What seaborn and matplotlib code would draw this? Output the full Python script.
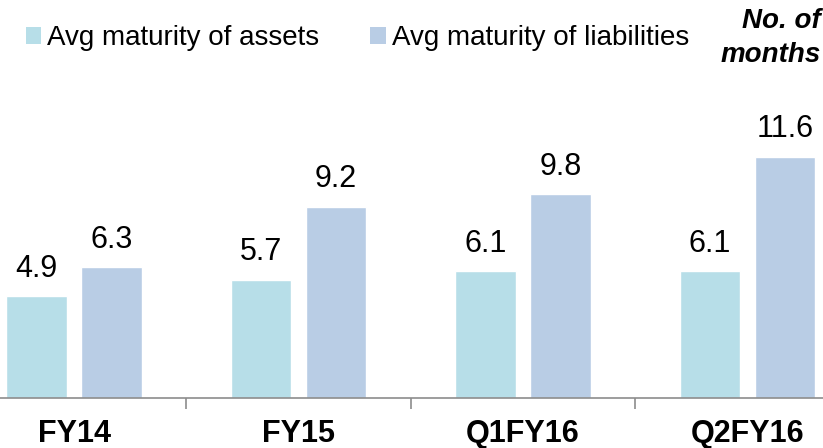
import matplotlib
matplotlib.use("Agg")
import matplotlib.pyplot as plt
from matplotlib.patches import Patch
import seaborn as sns
import pandas as pd

categories = ["FY14", "FY15", "Q1FY16", "Q2FY16"]
assets = [4.9, 5.7, 6.1, 6.1]
liabilities = [6.3, 9.2, 9.8, 11.6]
series_names = ["Avg maturity of assets", "Avg maturity of liabilities"]
colors = ["#B7DEE8", "#B9CDE5"]

df = pd.DataFrame({
    "cat": categories * 2,
    "val": assets + liabilities,
    "series": [series_names[0]] * 4 + [series_names[1]] * 4,
})

sns.set_style("white")
plt.rcParams["font.family"] = ["Liberation Sans", "DejaVu Sans"]
plt.rcParams["text.color"] = "black"
plt.rcParams["xtick.labelcolor"] = "black"

fig = plt.figure(figsize=(8.23, 4.48), dpi=100)
ax = fig.add_axes([0, (448 - 398) / 448, 1, 398 / 448])

sns.barplot(data=df, x="cat", y="val", hue="series", palette=colors,
            width=0.668, gap=0.19, ax=ax, legend=False, saturation=1)

ax.set_xlim(-0.3296, 3.336)
ax.set_ylim(0, 398 / 20.78)

for cont in ax.containers:
    for bar in cont:
        h = bar.get_height()
        ax.annotate(f"{h:.1f}", (bar.get_x() + bar.get_width() / 2, h),
                    xytext=(0, 9), textcoords="offset points",
                    ha="center", va="bottom", fontsize=22, color="black")

for s in ["top", "right", "left"]:
    ax.spines[s].set_visible(False)
ax.spines["bottom"].set_color("#8C8C8C")
ax.spines["bottom"].set_linewidth(1.2)
ax.set_yticks([])
ax.set_xlabel("")
ax.set_ylabel("")
ax.set_xticks(range(len(categories)))
ax.set_xticklabels(categories, fontsize=22, fontweight="bold", color="black")
ax.tick_params(axis="x", which="major", length=0, pad=15, bottom=True)
ax.set_xticks([0.5, 1.5, 2.5], minor=True)
ax.tick_params(axis="x", which="minor", length=8, width=1.2, color="#8C8C8C",
               direction="out", bottom=True)

handles = [Patch(facecolor=c, edgecolor="none") for c in colors]
leg = fig.legend(handles, series_names, loc="center left", bbox_to_anchor=(0.031, 1 - 38 / 448),
                 ncol=2, frameon=False, handlelength=0.55, handleheight=0.55,
                 handletextpad=0.22, columnspacing=1.85, borderpad=0, borderaxespad=0,
                 prop={"size": 20})
for t in leg.get_texts():
    t.set_color("black")

fig.text(0.997, 1 - 38 / 448, "No. of\nmonths", ha="right", va="center",
         fontsize=20, fontweight="bold", fontstyle="italic", linespacing=1.35,
         color="black")

fig.savefig("out.png", dpi=100)
